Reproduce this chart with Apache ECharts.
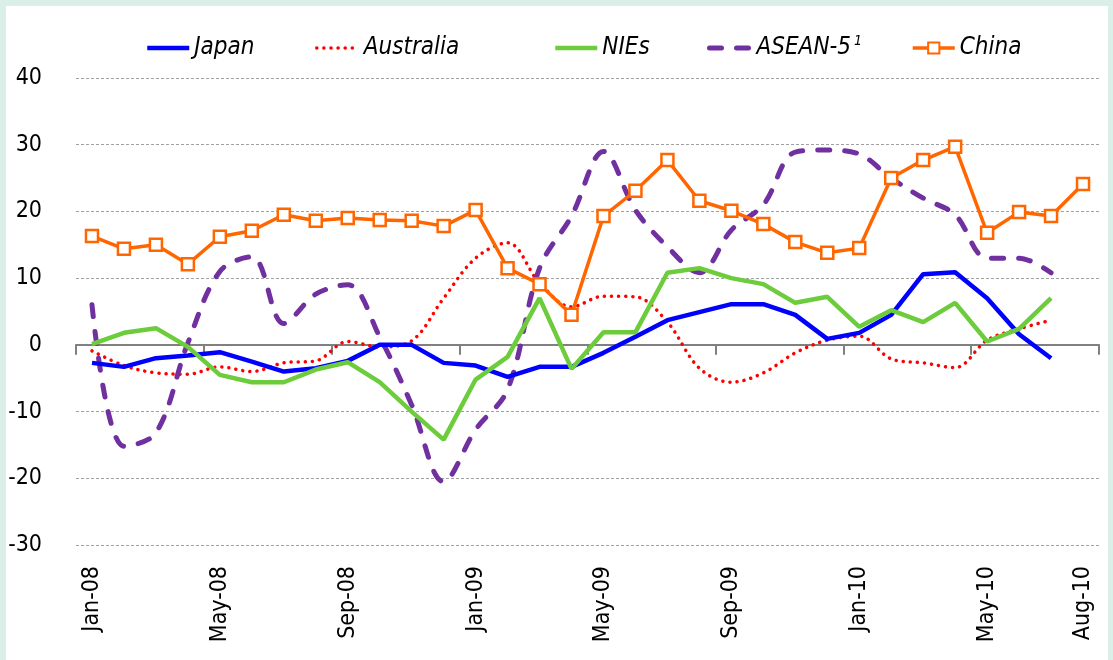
<!DOCTYPE html>
<html>
<head>
<meta charset="utf-8">
<script src="https://cdn.jsdelivr.net/npm/echarts@6/dist/echarts.min.js"></script>
<style>
html,body{margin:0;padding:0;background:#D9EFE7;}
#chart{width:1113px;height:660px;}
</style>
</head>
<body>
<div id="chart"></div>
<script>
const months = ['Jan-08','Feb-08','Mar-08','Apr-08','May-08','Jun-08','Jul-08','Aug-08','Sep-08','Oct-08','Nov-08','Dec-08',
  'Jan-09','Feb-09','Mar-09','Apr-09','May-09','Jun-09','Jul-09','Aug-09','Sep-09','Oct-09','Nov-09','Dec-09',
  'Jan-10','Feb-10','Mar-10','Apr-10','May-10','Jun-10','Jul-10','Aug-10'];
const japan = [-2.7,-3.3,-2.0,-1.6,-1.1,-2.5,-4.0,-3.5,-2.4,0.0,0.0,-2.7,-3.1,-4.8,-3.3,-3.3,-1.2,1.2,3.7,4.9,6.1,6.1,4.5,0.9,1.8,4.5,10.6,10.9,7.0,1.6,-2.0,null];
const australia = [-0.9,-3.1,-4.2,-4.4,-3.3,-4.0,-2.7,-2.4,0.5,-0.3,0.6,7.0,13.0,15.3,9.3,5.7,7.3,7.2,3.4,-3.5,-5.6,-4.2,-1.2,0.7,1.3,-2.1,-2.7,-3.4,0.7,2.4,3.7,null];
const nies = [0.1,1.8,2.5,-0.3,-4.5,-5.6,-5.6,-3.7,-2.6,-5.6,-10.0,-14.2,-5.2,-1.8,7.0,-3.6,1.9,1.9,10.8,11.5,10.0,9.1,6.3,7.2,2.7,5.2,3.4,6.3,0.5,2.4,7.0,null];
const asean = [6.0,-15.2,-13.2,0.3,11.0,13.2,3.2,7.6,9.0,1.2,-9.0,-20.5,-12.7,-6.7,11.5,19.3,29.0,20.2,14.7,10.8,17.2,21.0,28.9,29.2,28.6,25.0,22.0,19.5,13.0,13.0,10.8,null];
const china = [16.3,14.4,15.0,12.1,16.2,17.1,19.5,18.6,19.0,18.7,18.6,17.8,20.2,11.5,9.1,4.5,19.3,23.1,27.7,21.6,20.1,18.1,15.4,13.8,14.5,25.0,27.7,29.7,16.8,19.9,19.3,24.1];
const yTicks = {min: -30, max: 40, interval: 10};

const FONT = "'Liberation Sans Narrow','DejaVu Sans Condensed','Arial Narrow',sans-serif";
const chart = echarts.init(document.getElementById('chart'), null, {renderer: 'canvas'});

const styles = {
  Japan: {color: '#0000FF', width: 4.5, type: 'solid'},
  Australia: {color: '#FF0000', width: 3.5, type: [0.1, 7], cap: 'round'},
  NIEs: {color: '#6CCC3C', width: 4.5, type: 'solid'},
  'ASEAN-5': {color: '#7030A0', width: 5, type: [12, 15], cap: 'round'},
  China: {color: '#FF6600', width: 3.5, type: 'solid'}
};

function legendAt(name, left, hideSymbol) {
  const lg = {
    data: [name], left: left, top: 34, itemWidth: 42, itemHeight: 14, padding: 0,
    lineStyle: Object.assign({}, styles[name]),
    formatter: n => n === 'ASEAN-5' ? '{a|ASEAN-5}{s|1}' : n,
    textStyle: {fontFamily: FONT, fontSize: 24, fontStyle: 'italic', color: '#000', lineHeight: 28,
      rich: {
        a: {fontFamily: FONT, fontSize: 24, fontStyle: 'italic', color: '#000', lineHeight: 28},
        s: {fontFamily: FONT, fontSize: 14, fontStyle: 'italic', color: '#000', verticalAlign: 'top', lineHeight: 14, padding: [0,0,14,3]}
      }}
  };
  if (hideSymbol) lg.itemStyle = {opacity: 0, borderWidth: 0};
  return lg;
}

chart.setOption({
  backgroundColor: '#D9EFE7',
  animation: false,
  graphic: [{type: 'rect', shape: {x: 6, y: 6, width: 1102, height: 660}, style: {fill: '#ffffff'}, z: -10, silent: true}],
  legend: [
    legendAt('Japan', 145, true), legendAt('Australia', 315, true), legendAt('NIEs', 553, true),
    legendAt('ASEAN-5', 707, true), legendAt('China', 911, false)
  ],
  grid: {left: 76, right: 14, top: 78, bottom: 115},
  xAxis: [
    {type: 'category', data: months, boundaryGap: true,
     axisLine: {onZero: true, lineStyle: {color: '#808080', width: 2}},
     axisTick: {show: true, length: 10, interval: (i) => i % 4 === 0, lineStyle: {color: '#808080', width: 2}},
     axisLabel: {show: false}, splitLine: {show: false}},
    {type: 'category', data: months, boundaryGap: true, position: 'bottom',
     axisLine: {show: false, onZero: false}, axisTick: {show: false},
     axisLabel: {show: true, rotate: 90, margin: 21, interval: (i) => i % 4 === 0 || i === 31,
       fontFamily: FONT, fontSize: 23, color: '#000'}}
  ],
  yAxis: {type: 'value', min: yTicks.min, max: yTicks.max, interval: yTicks.interval,
    axisLine: {show: false}, axisTick: {show: false},
    axisLabel: {margin: 34, fontFamily: FONT, fontSize: 23, color: '#000'},
    splitLine: {show: true, lineStyle: {color: '#A0A0A0', width: 1, type: [3, 2]}}},
  series: [
    {name: 'Japan', type: 'line', data: japan, xAxisIndex: 0, showSymbol: false, symbol: 'none', color: '#0000FF',
     lineStyle: styles.Japan, z: 3},
    {name: 'Australia', type: 'line', data: australia, xAxisIndex: 0, showSymbol: false, symbol: 'none', color: '#FF0000', smooth: 0.35,
     lineStyle: styles.Australia, z: 2},
    {name: 'NIEs', type: 'line', data: nies, xAxisIndex: 0, showSymbol: false, symbol: 'none', color: '#6CCC3C',
     lineStyle: styles.NIEs, z: 3},
    {name: 'ASEAN-5', type: 'line', data: asean, xAxisIndex: 0, showSymbol: false, symbol: 'none', color: '#7030A0', smooth: 0.35,
     lineStyle: styles['ASEAN-5'], z: 2},
    {name: 'China', type: 'line', data: china, xAxisIndex: 0, symbol: 'rect', symbolSize: 12, showSymbol: true, color: '#FF6600',
     lineStyle: styles.China,
     itemStyle: {color: '#FFFFFF', borderColor: '#FF6600', borderWidth: 2.5}, z: 4}
  ]
});
</script>
</body>
</html>
